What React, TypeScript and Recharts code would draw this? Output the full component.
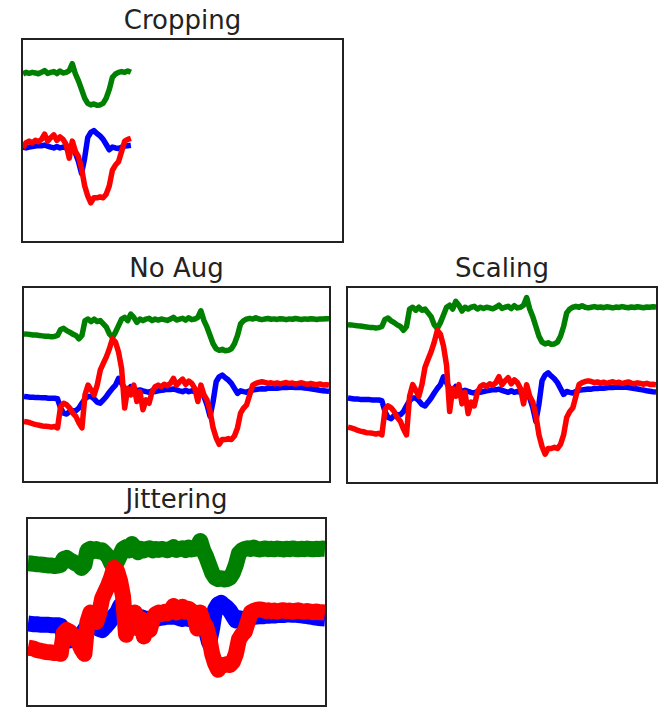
import { LineChart, Line, XAxis, YAxis } from "recharts";

// sample index 0..100, values read off the "No Aug" panel (0 = bottom of box, 100 = top)
const green = [
  76.2, 76.1, 75.9, 75.7, 75.6, 75.4, 75.2, 75.0, 75.0, 74.7,
  74.9, 75.4, 78.5, 79.1, 77.9, 77.1, 76.1, 75.4, 73.7, 75.4,
  83.1, 83.9, 82.6, 83.9, 82.6, 83.1, 81.4, 79.7, 76.2, 74.5,
  77.1, 80.5, 83.9, 84.8, 83.1, 86.5, 84.8, 82.2, 83.9, 83.1,
  83.9, 84.3, 83.1, 83.9, 83.4, 83.9, 83.6, 83.2, 83.9, 84.8,
  83.4, 83.9, 84.3, 83.3, 84.6, 83.6, 83.9, 84.8, 88.2, 83.1,
  79.7, 75.4, 71.1, 68.5, 67.7, 68.2, 67.5, 67.7, 68.5, 71.1,
  75.4, 81.4, 83.1, 83.9, 84.3, 83.9, 84.6, 83.9, 83.6, 83.9,
  84.2, 83.8, 84.0, 83.7, 84.1, 83.9, 83.6, 84.0, 83.8, 84.2,
  83.9, 83.7, 84.0, 83.8, 84.1, 83.9, 83.7, 84.0, 83.9, 84.1,
  84.0,
];

const blue = [
  43.8, 43.6, 43.4, 43.4, 43.2, 43.2, 43.1, 43.1, 42.9, 42.9,
  42.9, 42.6, 37.8, 35.2, 34.7, 36.1, 36.4, 36.4, 37.8, 40.3,
  42.6, 43.8, 43.8, 42.6, 40.9, 40.3, 42.0, 43.8, 46.0, 48.0,
  49.7, 53.2, 50.6, 48.0, 46.7, 48.9, 48.0, 46.7, 47.2, 46.7,
  46.3, 46.0, 46.7, 46.3, 46.7, 47.0, 47.2, 47.5, 47.4, 47.7,
  47.2, 46.7, 46.3, 47.0, 46.3, 46.7, 46.3, 46.7, 46.0, 43.8,
  39.5, 33.5, 41.2, 51.4, 54.0, 54.9, 53.5, 52.3, 50.6, 48.0,
  45.4, 46.7, 46.3, 46.0, 46.7, 47.2, 47.4, 47.6, 47.8, 47.7,
  48.0, 48.0, 48.2, 48.1, 48.3, 48.5, 48.4, 48.6, 48.6, 48.5,
  48.6, 48.4, 48.2, 48.0, 47.8, 47.5, 47.3, 47.0, 46.8, 46.6,
  46.5,
];

const red = [
  30.9, 30.6, 30.2, 29.6, 29.2, 28.9, 28.5, 28.4, 28.2, 27.9,
  28.2, 27.5, 38.6, 40.3, 39.5, 37.8, 35.2, 33.5, 30.1, 27.5,
  44.6, 49.7, 47.2, 44.6, 49.7, 57.4, 60.9, 64.3, 68.5, 73.7,
  72.0, 66.8, 58.3, 37.8, 48.0, 44.6, 49.7, 41.2, 46.3, 36.9,
  42.0, 40.3, 46.3, 48.9, 49.7, 48.9, 50.1, 49.4, 50.6, 53.2,
  49.7, 51.4, 52.8, 50.1, 51.8, 50.6, 48.0, 41.2, 49.7, 44.6,
  42.0, 36.1, 27.5, 22.4, 19.0, 21.5, 21.5, 22.0, 21.5, 23.3,
  27.5, 35.2, 37.8, 39.5, 44.6, 49.7, 50.6, 51.1, 51.4, 51.1,
  50.6, 50.9, 50.4, 50.8, 50.3, 50.7, 51.0, 50.5, 50.8, 50.2,
  50.6, 50.9, 50.4, 50.1, 50.5, 50.2, 49.9, 50.3, 49.8, 49.9,
  49.7,
];

const rows = green.map((g, i) => ({ t: i, g, b: blue[i], r: red[i] }));
const cropRows = rows.filter((d) => d.t >= 42 && d.t <= 77);

const font = '"DejaVu Sans", sans-serif';

function Panel({
  title,
  left,
  top,
  width,
  height,
  data,
  xDomain,
  yDomain,
  lineWidth,
}: {
  title: string;
  left: number;
  top: number;
  width: number;
  height: number;
  data: typeof rows;
  xDomain: [number, number];
  yDomain: [number, number];
  lineWidth: number;
}) {
  return (
    <>
      <div
        style={{
          position: "absolute",
          left,
          top: top - 33,
          width,
          textAlign: "center",
          fontFamily: font,
          fontSize: 26,
          lineHeight: "30px",
          color: "#222",
        }}
      >
        {title}
      </div>
      <div
        style={{
          position: "absolute",
          left,
          top,
          width: width - 4,
          height: height - 4,
          border: "2px solid #222",
          overflow: "hidden",
        }}
      >
        <LineChart
          width={width - 4}
          height={height - 4}
          data={data}
          margin={{ top: 0, right: 0, bottom: 0, left: 0 }}
        >
          <XAxis dataKey="t" type="number" domain={xDomain} hide allowDataOverflow />
          <YAxis type="number" domain={yDomain} hide allowDataOverflow />
          <Line dataKey="b" stroke="#0000ff" strokeWidth={lineWidth} dot={false} strokeLinejoin="round" isAnimationActive={false} />
          <Line dataKey="g" stroke="#008000" strokeWidth={lineWidth} dot={false} strokeLinejoin="round" isAnimationActive={false} />
          <Line dataKey="r" stroke="#ff0000" strokeWidth={lineWidth} dot={false} strokeLinejoin="round" isAnimationActive={false} />
        </LineChart>
      </div>
    </>
  );
}

export default function App() {
  return (
    <div style={{ position: "absolute", left: 0, top: 0, width: 663, height: 708, background: "#fff" }}>
      <Panel title="Cropping" left={21} top={38} width={323} height={205} data={cropRows} xDomain={[42, 145.5]} yDomain={[0, 100]} lineWidth={5.5} />
      <Panel title="No Aug" left={22} top={286} width={309} height={197} data={rows} xDomain={[0, 100]} yDomain={[0, 100]} lineWidth={5.5} />
      <Panel title="Scaling" left={346} top={286} width={312} height={198} data={rows} xDomain={[0, 100]} yDomain={[6.7, 92.4]} lineWidth={5.5} />
      <Panel title="Jittering" left={26} top={517} width={301} height={190} data={rows} xDomain={[0, 100]} yDomain={[0, 100]} lineWidth={16} />
    </div>
  );
}
